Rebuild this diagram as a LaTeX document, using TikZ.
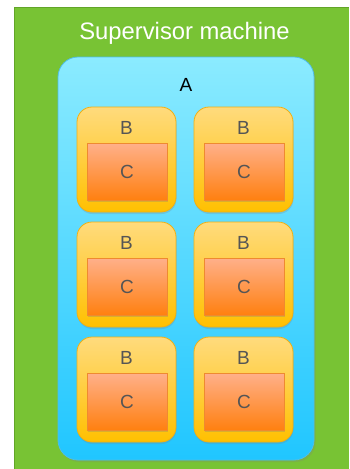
\documentclass[tikz,border=0pt]{standalone}
\usepackage{fontspec}
\setmainfont{Liberation Sans}
\usepackage{tikz}
\usetikzlibrary{calc,shadows}

\definecolor{supgreen}{RGB}{120,195,52}
\definecolor{supedge}{RGB}{98,165,40}
\definecolor{atop}{RGB}{139,235,255}
\definecolor{abot}{RGB}{32,198,255}
\definecolor{aedge}{RGB}{80,190,230}
\definecolor{btop}{RGB}{255,219,125}
\definecolor{bbot}{RGB}{255,192,0}
\definecolor{bedge}{RGB}{240,176,20}
\definecolor{ctop}{RGB}{255,176,138}
\definecolor{cbot}{RGB}{255,128,16}
\definecolor{cedge}{RGB}{238,138,48}
\definecolor{labgray}{RGB}{85,85,85}

\tikzset{
  abox/.style={draw=aedge, line width=0.8pt, rounded corners=20pt, top color=atop, bottom color=abot,
    minimum width=256pt, minimum height=403pt, inner sep=0pt,
    drop shadow={opacity=0.25, shadow xshift=1.5pt, shadow yshift=-2pt}},
  bbox/.style={draw=bedge, line width=0.8pt, rounded corners=15pt, top color=btop, bottom color=bbot,
    minimum width=99pt, minimum height=105pt, inner sep=0pt,
    drop shadow={opacity=0.25, shadow xshift=0.5pt, shadow yshift=-2pt}},
  cbox/.style={draw=cedge, line width=0.8pt, top color=ctop, bottom color=cbot,
    minimum width=80pt, minimum height=57pt, inner sep=0pt, text=labgray,
    font=\fontsize{19}{22}\selectfont,
    drop shadow={opacity=0.3, shadow xshift=0.5pt, shadow yshift=-2pt}},
  blabel/.style={text=labgray, font=\fontsize{19}{22}\selectfont, inner sep=0pt}
}

\begin{document}
\begin{tikzpicture}[x=1pt, y=-1pt]
		\useasboundingbox (0,0) rectangle (349,469);
		% supervisor machine
		\fill[supgreen] (14,7) rectangle (349,469);
		\draw[supedge, line width=1pt] (14,469) -- (14,7) -- (349,7);
		\node[text=white, font=\fontsize{23.8}{28}\selectfont, inner sep=0pt] (suplabel) at (184.5,33) {Supervisor machine};
		% A
		\node[abox] (A) at (186,258.5) {};
		\node[font=\fontsize{19}{22}\selectfont, inner sep=0pt] (Alabel) at (186,85) {A};
		% B boxes
		\node[bbox] (B11) at (126.5,159.5) {};
		\node[bbox] (B12) at (243.5,159.5) {};
		\node[bbox] (B21) at (126.5,274.5) {};
		\node[bbox] (B22) at (243.5,274.5) {};
		\node[bbox] (B31) at (126.5,389.5) {};
		\node[bbox] (B32) at (243.5,389.5) {};
		\node[blabel] (B11l) at ($(B11.north)+(0,21)$) {B};
		\node[blabel] (B12l) at ($(B12.north)+(0,21)$) {B};
		\node[blabel] (B21l) at ($(B21.north)+(0,21)$) {B};
		\node[blabel] (B22l) at ($(B22.north)+(0,21)$) {B};
		\node[blabel] (B31l) at ($(B31.north)+(0,21)$) {B};
		\node[blabel] (B32l) at ($(B32.north)+(0,21)$) {B};
		% C boxes
		\node[cbox] (C11) at ($(B11)+(0.5,12)$) {C};
		\node[cbox] (C12) at ($(B12)+(0.5,12)$) {C};
		\node[cbox] (C21) at ($(B21)+(0.5,12)$) {C};
		\node[cbox] (C22) at ($(B22)+(0.5,12)$) {C};
		\node[cbox] (C31) at ($(B31)+(0.5,12)$) {C};
		\node[cbox] (C32) at ($(B32)+(0.5,12)$) {C};
\end{tikzpicture}
\end{document}
